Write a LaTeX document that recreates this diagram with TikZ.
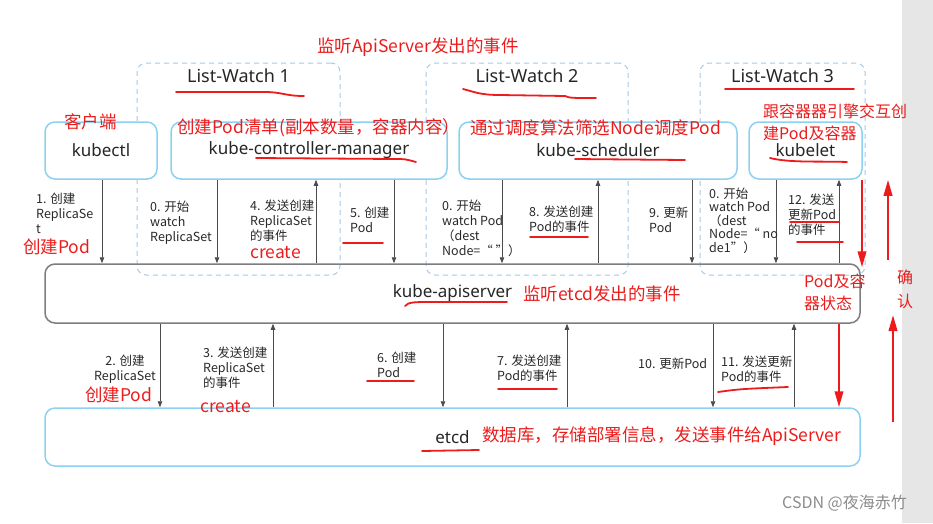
\documentclass[tikz,border=0pt]{standalone}
\usepackage{fontspec}
\setmainfont{Noto Sans CJK SC}
\newfontfamily\titlefont{Noto Sans}
\usetikzlibrary{arrows.meta}

\definecolor{compblue}{RGB}{140,210,240}
\definecolor{lwblue}{RGB}{168,200,228}
\definecolor{apigray}{RGB}{125,125,125}
\definecolor{inkred}{RGB}{236,28,28}
\definecolor{labelgray}{RGB}{40,40,40}
\definecolor{sidegray}{RGB}{230,230,230}

\tikzset{
  comp/.style={draw=compblue, fill=white, line width=1.5pt, rounded corners=10pt,
    minimum height=57pt, inner sep=0pt, text=black!85,
    font=\titlefont\fontsize{17}{20}\selectfont},
  lwbox/.style={draw=lwblue, line width=1pt, dash pattern=on 5pt off 4pt,
    rounded corners=9pt, minimum height=212pt, inner sep=0pt},
  lwtitle/.style={text=black!85, font=\titlefont\fontsize{18}{20}\selectfont},
  flow/.style={draw=black!70, line width=0.8pt, -{Triangle[length=6pt,width=4.5pt]}},
  lbl/.style={anchor=north west, align=left, inner sep=0pt, text=labelgray,
    font=\fontsize{12.5}{15}\selectfont},
  note/.style={anchor=west, inner sep=0pt, text=inkred,
    font=\fontsize{17.5}{22}\selectfont},
  redline/.style={draw=inkred, line width=1.8pt, line cap=round},
  redarrow/.style={draw=inkred, line width=2.2pt, -{Triangle[length=16pt,width=8.5pt]}},
}

\begin{document}
\begin{tikzpicture}[x=1pt, y=-1pt]
  \useasboundingbox (0,0) rectangle (933,523);
  \fill[sidegray] (902,0) rectangle (933,523);

  % list-watch groups
  \node[lwbox, minimum width=203pt] (lw1) at (238.5,169) {};
  \node[lwbox, minimum width=202pt] (lw2) at (527,169) {};
  \node[lwbox, minimum width=165pt] (lw3) at (782.5,169) {};
  \node[lwtitle] (lw1t) at ([yshift=-13pt]lw1.north) {List-Watch 1};
  \node[lwtitle] (lw2t) at ([yshift=-13pt]lw2.north) {List-Watch 2};
  \node[lwtitle] (lw3t) at ([yshift=-13pt]lw3.north) {List-Watch 3};

  % components
  \node[comp, minimum width=112pt] (kubectl) at (101,150.5) {kubectl};
  \node[comp, minimum width=276pt] (ctrl) at (309,150.5) {kube-controller-manager};
  \node[comp, minimum width=278pt] (sched) at (598,150.5) {kube-scheduler};
  \node[comp, minimum width=113pt] (kubelet) at (805.5,150.5) {kubelet};
  \node[comp, draw=apigray, fill=none, minimum width=815pt, minimum height=59pt] (api) at (452.5,293.5) {kube-apiserver};
  \node[comp, fill=none, minimum width=815pt, minimum height=58pt] (etcd) at (452.5,437) {etcd};

  % calls
  \foreach \x/\src in {102/kubectl, 217/ctrl, 394/ctrl, 502/sched, 692/sched, 776/kubelet}
    \draw[flow] (\x,0 |- \src.south) -- (\x,0 |- api.north);
  \foreach \x/\dst in {316/ctrl, 598/sched, 839/kubelet}
    \draw[flow] (\x,0 |- api.north) -- (\x,0 |- \dst.south);
  \foreach \x in {160, 443, 713}
    \draw[flow] (\x,0 |- api.south) -- (\x,0 |- etcd.north);
  \foreach \x in {273, 567, 794}
    \draw[flow] (\x,0 |- etcd.north) -- (\x,0 |- api.south);

  % step labels
  \node[lbl] (s1) at (36,192.5) {1. 创建\\ReplicaSe\\t};
  \node[lbl] (s0a) at (150,200.5) {0. 开始\\watch\\ReplicaSet};
  \node[lbl] (s4) at (250,199.5) {4. 发送创建\\ReplicaSet\\的事件};
  \node[lbl] (s5) at (350,206.5) {5. 创建\\Pod};
  \node[lbl] (s0b) at (442,199.5) {0. 开始\\watch Pod\\（dest\\Node=“ ”）};
  \node[lbl] (s8) at (529,205.5) {8. 发送创建\\Pod的事件};
  \node[lbl] (s9) at (649,206.5) {9. 更新\\Pod};
  \node[lbl, font=\fontsize{12.5}{13.5}\selectfont] (s0c) at (709,187.5) {0. 开始\\watch Pod\\（dest\\Node=“ no\\de1”）};
  \node[lbl] (s12) at (788,193.5) {12. 发送\\更新Pod\\的事件};
  \node[lbl, anchor=north, align=center] (s2) at (125,354.5) {2. 创建\\ReplicaSet};
  \node[lbl] (s3) at (203,346.5) {3. 发送创建\\ReplicaSet\\的事件};
  \node[lbl] (s6) at (377,351.5) {6. 创建\\Pod};
  \node[lbl] (s7) at (497,354.5) {7. 发送创建\\Pod的事件};
  \node[lbl, anchor=west] (s10) at (638,364) {10. 更新Pod};
  \node[lbl] (s11) at (721,355.5) {11. 发送更新\\Pod的事件};

  % red notes
  \node[note] (n1) at (23,247) {创建Pod};
  \node[note] (n2) at (250,253) {create};
  \node[note] (n3) at (85,395) {创建Pod};
  \node[note] (n4) at (200,407) {create};
  \node[note] (client) at (64,122) {客户端};
  \node[note] (ctrlnote) at (177,128) {创建Pod清单(副本数量，容器内容）};
  \node[note] (schednote) at (470,128) {通过调度算法筛选Node调度Pod};
  \node[note, anchor=north west, align=left, font=\fontsize{16}{22}\selectfont] (kubeletnote) at (763,104) {跟容器器引擎交互创\\建Pod及容器};
  \node[note] (lwnote) at (317,47) {监听ApiServer发出的事件};
  \node[note] (apinote) at (523,294) {监听etcd发出的事件};
  \node[note, anchor=north west, align=left, font=\fontsize{16}{22}\selectfont] (statenote) at (804,274) {Pod及容\\器状态};
  \node[note, anchor=north west, align=left, font=\fontsize{16}{24}\selectfont] (acknote) at (897,270) {确\\认};
  \node[note] (etcdnote) at (482,436) {数据库，存储部署信息，发送事件给ApiServer};
  \node[anchor=west, inner sep=0pt, text=black!45, font=\fontsize{16}{18}\selectfont] (wm) at (782,503) {CSDN @夜海赤竹};

  % red arrows
  \draw[redarrow] (862,0 |- kubelet.south) -- ([yshift=-4pt]862,0 |- api.north);
  \draw[redarrow] (839,0 |- api.south) -- (839,0 |- etcd.north);
  \coordinate (ack1) at (888,260);
  \coordinate (ack2) at (893,422);
  \draw[redarrow] (ack1) -- (888,0 |- kubelet.south);
  \draw[redarrow] (ack2) -- (893,315);

  % hand underlines
  \draw[redline] (176,92) -- (265,92) .. controls (282,92) and (285,96) .. (304,96);
  \draw[redline] (463,89) .. controls (475,92) and (480,95) .. (500,95) -- (565,96) .. controls (570,98) .. (596,98);
  \draw[redline] (725,89) -- (854,89);
  \draw[redline] (256,158) -- (395,159) .. controls (405,159) .. (416,162);
  \draw[redline] (575,159) -- (685,160);
  \draw[redline] (770,158) .. controls (790,163) and (820,161) .. (847,162);
  \draw[redline] (405,306) .. controls (408,302) and (415,302) .. (430,302) -- (507,302);
  \draw[redline] (422,451) -- (479,450);
  \draw[redline] (343,243) -- (383,243);
  \draw[redline] (530,237) -- (588,237);
  \draw[redline] (790,222) -- (839,222);
  \draw[redline] (797,242) -- (843,242);
  \draw[redline] (367,381) -- (414,381);
  \draw[redline] (498,389) -- (557,389);
  \draw[redline] (718,392) .. controls (740,389) .. (788,387);
\end{tikzpicture}
\end{document}
